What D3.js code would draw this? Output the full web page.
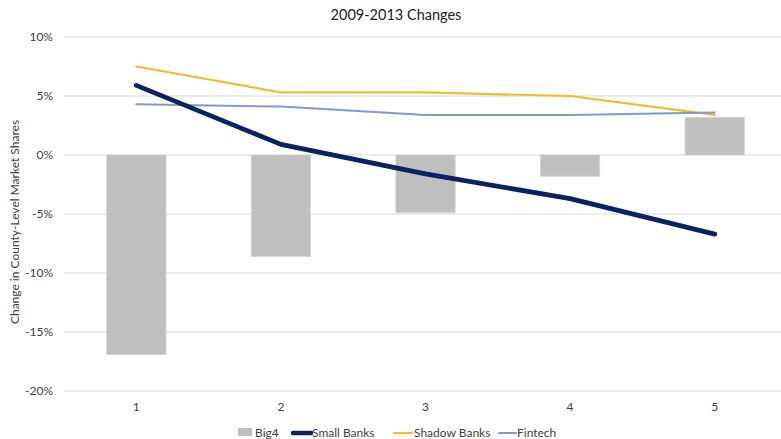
<!DOCTYPE html>
<html>
<head>
<meta charset="utf-8">
<script src="https://cdn.jsdelivr.net/npm/d3@7"></script>
<style>
  html, body { margin: 0; padding: 0; background: #fff; }
  svg { display: block; font-family: Lato, "Open Sans", sans-serif; }
</style>
</head>
<body>
<svg id="chart" width="781" height="439"></svg>
<script>
// Market share changes by quintile, 2009-2013 (percent)
const categories = ["1", "2", "3", "4", "5"];
const big4 = [-16.9, -8.6, -4.9, -1.8, 3.2];
const smallBanks = [5.9, 0.9, -1.6, -3.7, -6.7];
const shadowBanks = [7.5, 5.3, 5.3, 5.0, 3.4];
const fintech = [4.3, 4.1, 3.4, 3.4, 3.6];
const yTicks = [10, 5, 0, -5, -10, -15, -20];

const svg = d3.select("#chart");
const plotLeft = 64, plotRight = 787, plotTop = 37, plotBottom = 391;

const x = d3.scaleBand().domain(categories).range([plotLeft, plotRight]).paddingInner(0.59).paddingOuter(0.295);
const y = d3.scaleLinear().domain([-20, 10]).range([plotBottom, plotTop]);
const cx = d => x(d) + x.bandwidth() / 2;

// title
svg.append("text").attr("x", 396).attr("y", 20).attr("text-anchor", "middle")
  .attr("font-size", 14.5).attr("fill", "#222").text("2009-2013 Changes");

// gridlines
svg.append("g").selectAll("line").data(yTicks).join("line")
  .attr("x1", plotLeft).attr("x2", 781)
  .attr("y1", d => y(d)).attr("y2", d => y(d))
  .attr("stroke", "#d9d9d9").attr("stroke-width", 1.2);

// y axis labels
const yAxis = d3.axisLeft(y).tickValues(yTicks).tickSize(0).tickPadding(0)
  .tickFormat(d => d + "%");
svg.append("g").attr("transform", `translate(${plotLeft - 11},0)`).call(yAxis)
  .call(g => g.select(".domain").remove())
  .call(g => g.selectAll("text").attr("font-size", 12).attr("fill", "#404040")
    .attr("font-family", "Lato, 'Open Sans', sans-serif"));

// y axis title
svg.append("text").attr("transform", `translate(19,${(plotTop + plotBottom) / 2 + 8}) rotate(-90)`)
  .attr("text-anchor", "middle").attr("font-size", 12).attr("fill", "#404040")
  .text("Change in County-Level Market Shares");

// x axis labels
const xAxis = d3.axisBottom(x).tickSize(0).tickPadding(0);
svg.append("g").attr("transform", `translate(0,${plotBottom + 11})`).call(xAxis)
  .call(g => g.select(".domain").remove())
  .call(g => g.selectAll("text").attr("font-size", 12).attr("fill", "#404040")
    .attr("font-family", "Lato, 'Open Sans', sans-serif"));

// bars
svg.append("g").selectAll("rect").data(big4).join("rect")
  .attr("x", (d, i) => x(categories[i]))
  .attr("width", x.bandwidth())
  .attr("y", d => y(Math.max(0, d)))
  .attr("height", d => Math.abs(y(d) - y(0)))
  .attr("fill", "#bfbfbf").attr("stroke", "#d4d4d4").attr("stroke-width", 0.8);

// lines
const line = d3.line().x((d, i) => cx(categories[i])).y(d => y(d));
const series = [
  { values: shadowBanks, color: "#f2bb2e", width: 2.2 },
  { values: fintech, color: "#8199d0", width: 2 },
  { values: smallBanks, color: "#0b2161", width: 4.8 }
];
svg.append("g").selectAll("path").data(series).join("path")
  .attr("d", s => line(s.values))
  .attr("fill", "none").attr("stroke", s => s.color)
  .attr("stroke-width", s => s.width)
  .attr("stroke-linecap", "round").attr("stroke-linejoin", "round");

// legend
const lg = svg.append("g").attr("font-size", 12).attr("fill", "#404040");
const ly = 433;
lg.append("rect").attr("x", 238).attr("y", ly - 5).attr("width", 14).attr("height", 8).attr("fill", "#bfbfbf");
lg.append("text").attr("x", 255).attr("y", ly + 4).text("Big4");
const legendLines = [
  { x1: 293, x2: 311, tx: 312, label: "Small Banks", color: "#0b2161", width: 4.5 },
  { x1: 394, x2: 412, tx: 414, label: "Shadow Banks", color: "#f2bb2e", width: 2.2 },
  { x1: 499, x2: 516, tx: 517, label: "Fintech", color: "#8199d0", width: 2 }
];
legendLines.forEach(l => {
  lg.append("line").attr("x1", l.x1).attr("x2", l.x2).attr("y1", ly).attr("y2", ly)
    .attr("stroke", l.color).attr("stroke-width", l.width).attr("stroke-linecap", "round");
  lg.append("text").attr("x", l.tx).attr("y", ly + 4).text(l.label);
});
</script>
</body>
</html>
